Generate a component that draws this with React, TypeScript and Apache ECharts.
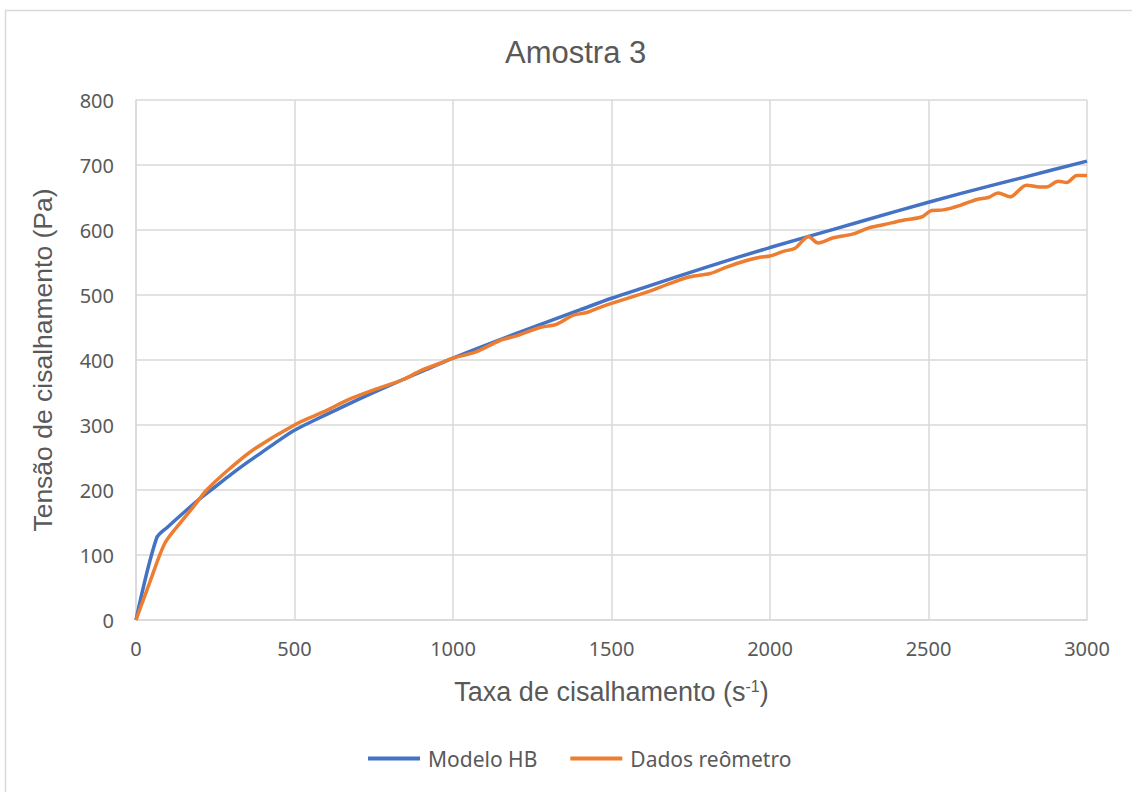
import React, { useEffect, useRef } from "react";
import * as echarts from "echarts";

const titleText = "Amostra 3";
const xAxisTitle = "Taxa de cisalhamento (s{sup|-1})";
const yAxisTitle = "Tensão de cisalhamento (Pa)";
const seriesNames = ["Modelo HB", "Dados reômetro"];

const modelX = [0, 65, 100, 150, 200, 250, 300, 350, 400, 450, 500, 600, 700, 800, 900, 1000, 1200, 1400, 1500, 1600, 1800, 2000, 2200, 2400, 2600, 2800, 3000];
const modelY = [0, 126, 143, 165, 186, 205, 224, 242, 259, 276, 292, 316, 339, 361, 382, 403, 441, 477, 495, 511, 543, 573, 601, 629, 656, 681, 706];

const dataX = [0, 45, 91, 139, 181, 223, 296, 370, 507, 600, 665, 750, 843, 900, 959, 1000, 1070, 1148, 1200, 1274, 1327, 1380, 1422, 1464, 1500, 1590, 1632, 1685, 1748, 1811, 1863, 1926, 1968, 2000, 2042, 2079, 2100, 2121, 2152, 2200, 2263, 2310, 2357, 2420, 2478, 2510, 2547, 2600, 2652, 2689, 2720, 2757, 2809, 2851, 2872, 2909, 2936, 2968, 3000];
const dataY = [0, 60, 118, 149, 174, 200, 233, 262, 302, 322, 338, 354, 370, 384, 395, 403, 412, 430, 437, 450, 455, 469, 473, 481, 487, 501, 508, 518, 528, 533, 543, 553, 558, 560, 567, 572, 582, 590, 580, 588, 594, 603, 608, 615, 620, 630, 631, 638, 647, 650, 657, 651, 669, 666, 666, 675, 673, 684, 684];

const xTicks = { min: 0, max: 3000, interval: 500 };
const yTicks = { min: 0, max: 800, interval: 100 };

export default function App() {
  const ref = useRef<HTMLDivElement>(null);
  useEffect(() => {
    if (!ref.current) return;
    const chart = echarts.init(ref.current, null, { renderer: "svg" });
    const gray = "#595959";
    const grid = "#d9d9d9";
    const tickFont = "'Noto Sans', 'Open Sans', sans-serif";
    const titleFont = "'Liberation Sans', Arial, sans-serif";
    chart.setOption({
      animation: false,
      backgroundColor: "#ffffff",
      title: {
        text: titleText,
        left: 500,
        top: 32,
        textStyle: { fontFamily: titleFont, fontSize: 31, fontWeight: "normal", color: gray },
      },
      graphic: [
        {
          type: "rect",
          shape: { x: 5.5, y: 10.5, width: 1300, height: 1000 },
          style: { fill: "none", stroke: grid, lineWidth: 1.5 },
          silent: true,
        },
      ],
      legend: {
        bottom: 18,
        left: 363,
        itemWidth: 52,
        itemHeight: 4,
        itemGap: 33,
        icon: "rect",
        textStyle: { fontFamily: tickFont, fontSize: 21, color: gray, padding: [0, 0, 0, 3] },
        data: seriesNames,
      },
      grid: { left: 136, right: 45, top: 100, bottom: 172 },
      xAxis: {
        type: "value",
        min: xTicks.min,
        max: xTicks.max,
        interval: xTicks.interval,
        name: xAxisTitle,
        nameLocation: "middle",
        nameGap: 58,
        nameTextStyle: {
          fontFamily: titleFont,
          fontSize: 27,
          color: gray,
          rich: {
            sup: { fontFamily: titleFont, fontSize: 16, color: gray, verticalAlign: "top", padding: [0, 0, 12, 0] },
          },
        },
        axisLine: { show: true, lineStyle: { color: grid, width: 1.5 } },
        axisTick: { show: false },
        axisLabel: { fontFamily: tickFont, fontSize: 20, color: gray, margin: 18, formatter: (v: number) => String(v) },
        splitLine: { show: true, lineStyle: { color: grid, width: 1.5 } },
      },
      yAxis: {
        type: "value",
        min: yTicks.min,
        max: yTicks.max,
        interval: yTicks.interval,
        name: yAxisTitle,
        nameLocation: "middle",
        nameGap: 80,
        nameTextStyle: { fontFamily: titleFont, fontSize: 26.5, color: gray },
        axisLine: { show: true, lineStyle: { color: grid, width: 1.5 } },
        axisTick: { show: false },
        axisLabel: { fontFamily: tickFont, fontSize: 20, color: gray, margin: 22, formatter: (v: number) => String(v) },
        splitLine: { show: true, lineStyle: { color: grid, width: 1.5 } },
      },
      series: [
        {
          name: seriesNames[0],
          type: "line",
          data: modelX.map((x, i) => [x, modelY[i]]),
          showSymbol: false,
          smooth: 0.3,
          lineStyle: { color: "#4472C4", width: 3.5 },
          itemStyle: { color: "#4472C4" },
          z: 2,
        },
        {
          name: seriesNames[1],
          type: "line",
          data: dataX.map((x, i) => [x, dataY[i]]),
          showSymbol: false,
          smooth: 0.3,
          lineStyle: { color: "#ED7D31", width: 3.5 },
          itemStyle: { color: "#ED7D31" },
          z: 3,
        },
      ],
    });
    return () => chart.dispose();
  }, []);
  return (
    <div
      ref={ref}
      style={{ position: "fixed", left: 0, top: 0, width: 1132, height: 792, background: "#fff" }}
    />
  );
}
